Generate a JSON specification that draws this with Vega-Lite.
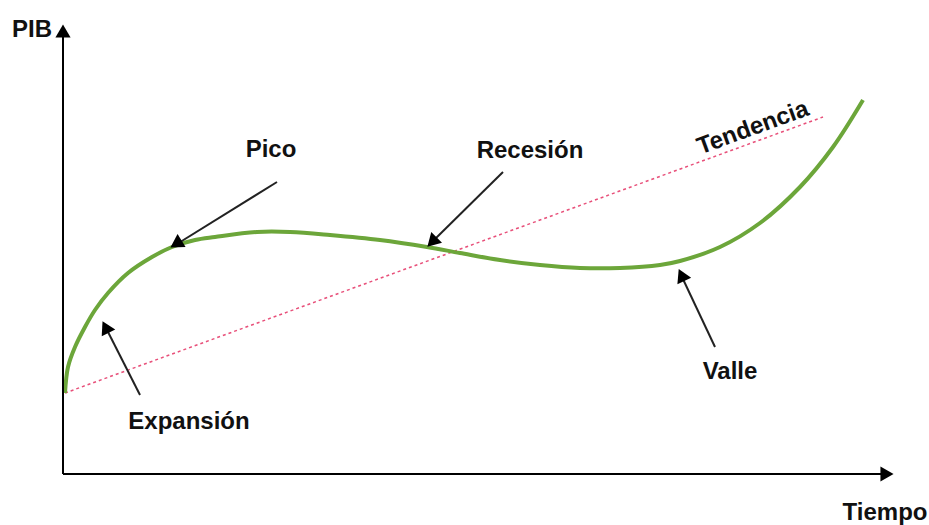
{
  "$schema": "https://vega.github.io/schema/vega-lite/v6.json",
  "width": 929,
  "height": 525,
  "padding": 0,
  "autosize": "none",
  "background": "white",
  "config": {"view": {"stroke": null}},
  "datasets": {
    "ciclo": [
      {"t": 2, "pib": 81}, {"t": 5, "pib": 107}, {"t": 12, "pib": 127},
      {"t": 22, "pib": 147}, {"t": 32, "pib": 164}, {"t": 45, "pib": 181},
      {"t": 65, "pib": 201}, {"t": 89, "pib": 217}, {"t": 109, "pib": 227},
      {"t": 132, "pib": 234}, {"t": 152, "pib": 237}, {"t": 194, "pib": 242},
      {"t": 227, "pib": 242}, {"t": 267, "pib": 239}, {"t": 317, "pib": 234},
      {"t": 364, "pib": 227}, {"t": 397, "pib": 221}, {"t": 437, "pib": 214},
      {"t": 477, "pib": 209}, {"t": 517, "pib": 206}, {"t": 557, "pib": 206},
      {"t": 597, "pib": 209}, {"t": 617, "pib": 213}, {"t": 657, "pib": 227},
      {"t": 697, "pib": 251}, {"t": 737, "pib": 287}, {"t": 770, "pib": 327},
      {"t": 800, "pib": 374}
    ],
    "tendencia": [{"t": 2, "pib": 81}, {"t": 760, "pib": 357}],
    "ejes": [
      {"t": 0, "pib": 0, "t2": 0, "pib2": 441},
      {"t": 0, "pib": 0, "t2": 822, "pib2": 0}
    ],
    "flechas": [
      {"t": 214, "pib": 292, "t2": 114, "pib2": 230},
      {"t": 440, "pib": 302, "t2": 370, "pib2": 233},
      {"t": 652, "pib": 127, "t2": 619, "pib2": 197},
      {"t": 77, "pib": 79, "t2": 43, "pib2": 146}
    ],
    "puntas": [
      {"t": 0, "pib": 443, "angulo": 0},
      {"t": 824, "pib": 0, "angulo": 90},
      {"t": 113, "pib": 230, "angulo": 238},
      {"t": 369, "pib": 232, "angulo": 225},
      {"t": 618.5, "pib": 199, "angulo": 335},
      {"t": 42.5, "pib": 147, "angulo": 333}
    ],
    "etiquetas": [
      {"texto": "PIB", "t": -31, "pib": 444, "angulo": 0},
      {"texto": "Tiempo", "t": 822, "pib": -39, "angulo": 0},
      {"texto": "Pico", "t": 208, "pib": 324, "angulo": 0},
      {"texto": "Recesión", "t": 467, "pib": 323, "angulo": 0},
      {"texto": "Valle", "t": 667, "pib": 102, "angulo": 0},
      {"texto": "Expansión", "t": 126, "pib": 52, "angulo": 0},
      {"texto": "Tendencia", "t": 690, "pib": 346, "angulo": 340}
    ]
  },
  "layer": [
    {
      "data": {"name": "tendencia"},
      "mark": {"type": "line", "color": "#e8507a", "strokeWidth": 1.5, "strokeDash": [3, 3]},
      "encoding": {
        "x": {"field": "t", "type": "quantitative", "scale": {"domain": [-63, 866], "nice": false, "zero": false}, "axis": null},
        "y": {"field": "pib", "type": "quantitative", "scale": {"domain": [-51, 474], "nice": false, "zero": false}, "axis": null}
      }
    },
    {
      "data": {"name": "ciclo"},
      "mark": {"type": "line", "color": "#6ca63a", "strokeWidth": 4, "interpolate": "catmull-rom"},
      "encoding": {
        "x": {"field": "t", "type": "quantitative"},
        "y": {"field": "pib", "type": "quantitative"}
      }
    },
    {
      "data": {"name": "ejes"},
      "mark": {"type": "rule", "color": "black", "strokeWidth": 2},
      "encoding": {
        "x": {"field": "t", "type": "quantitative"},
        "y": {"field": "pib", "type": "quantitative"},
        "x2": {"field": "t2"},
        "y2": {"field": "pib2"}
      }
    },
    {
      "data": {"name": "flechas"},
      "mark": {"type": "rule", "color": "#222222", "strokeWidth": 2},
      "encoding": {
        "x": {"field": "t", "type": "quantitative"},
        "y": {"field": "pib", "type": "quantitative"},
        "x2": {"field": "t2"},
        "y2": {"field": "pib2"}
      }
    },
    {
      "data": {"name": "puntas"},
      "mark": {"type": "point", "shape": "triangle-up", "filled": true, "color": "black", "size": 230, "opacity": 1},
      "encoding": {
        "x": {"field": "t", "type": "quantitative"},
        "y": {"field": "pib", "type": "quantitative"},
        "angle": {"field": "angulo", "type": "quantitative", "scale": null}
      }
    },
    {
      "data": {"name": "etiquetas"},
      "mark": {"type": "text", "font": "Liberation Sans", "fontWeight": "bold", "fontSize": 24, "color": "#111111", "align": "center", "baseline": "middle"},
      "encoding": {
        "x": {"field": "t", "type": "quantitative"},
        "y": {"field": "pib", "type": "quantitative"},
        "text": {"field": "texto"},
        "angle": {"field": "angulo", "type": "quantitative", "scale": null}
      }
    }
  ]
}
